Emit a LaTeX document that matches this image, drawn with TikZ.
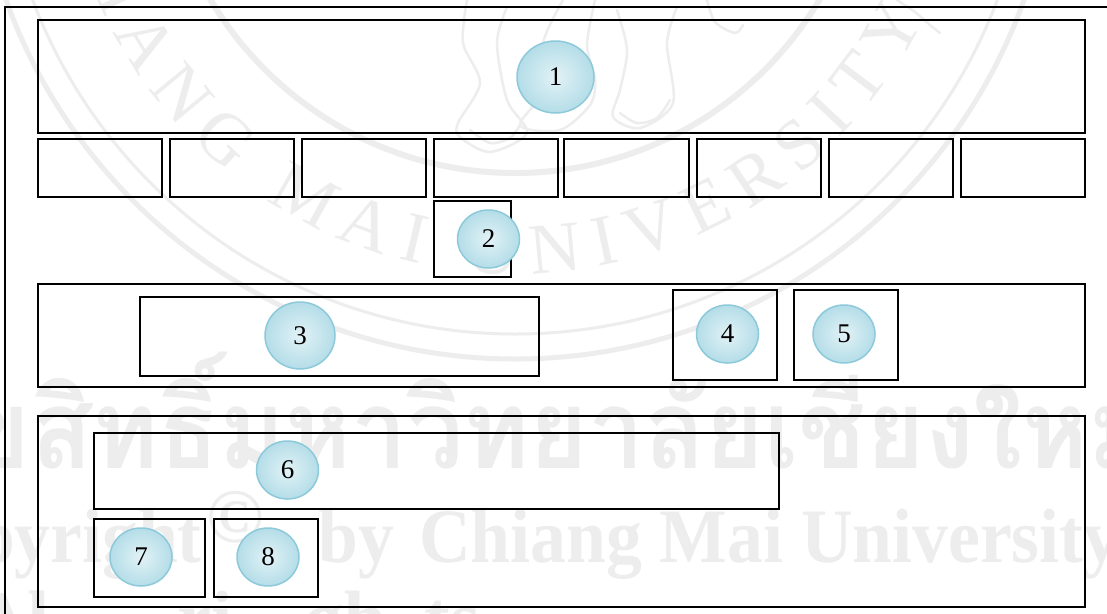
\documentclass[tikz,border=0pt]{standalone}
\usepackage{fontspec}
\setmainfont{Liberation Serif}
\newfontfamily\thaifont[Script=Thai]{Loma}
\usetikzlibrary{decorations.text,calc,shapes.geometric}
\definecolor{wm}{HTML}{EDEDED}
\definecolor{ballrim}{HTML}{8CC9DA}
\definecolor{ballin}{HTML}{E2F2F6}
\definecolor{ballout}{HTML}{B4DDE8}
\tikzset{
  boxnode/.style={draw=black,line width=1.4pt,rectangle,inner sep=0pt,outer sep=0pt},
  ballnode/.style={ellipse,draw=ballrim,line width=1.5pt,inner sep=0pt,outer sep=0pt,
    inner color=ballin,outer color=ballout,text=black,font=\fontsize{27}{27}\selectfont},
  wmline/.style={draw=wm,line width=2.5pt,line join=round,line cap=round},
  wmbig/.style={text=wm,inner sep=0pt,font=\bfseries\fontsize{77}{77}\selectfont},
}
\newcommand{\bx}[5]{\node[boxnode,minimum width=#4pt-#2pt,minimum height=#5pt-#3pt] (#1) at ({(#2+#4)/2},{(#3+#5)/2}) {};}
\begin{document}
\begin{tikzpicture}[x=1pt,y=-1pt]
\useasboundingbox (0,0) rectangle (1107,613);
\fill[white] (0,0) rectangle (1107,613);
\begin{scope}
\clip (0,0) rectangle (1107,613);
% watermark seal
\coordinate (sealc) at (515,-181);
\draw[wm,line width=5pt] (sealc) circle[radius=540];
\draw[wm,line width=3pt] (sealc) circle[radius=515];
\draw[wm,line width=6pt] (sealc) circle[radius=354];
\path[decorate,decoration={text along path,text align={fit to path},
  text={|\fontsize{72}{72}\selectfont\color{wm}|CHIANG MAI UNIVERSITY}}]
  (sealc) ++(173:455) arc[start angle=173,end angle=26,radius=455];
% elephant legs
\draw[wmline] plot[smooth] coordinates {(467,0)(463,43)(480,83)(458,123)(460,137)(490,152)(527,133)(507,100)(497,43)(507,7)};
\draw[wmline] plot[smooth] coordinates {(563,0)(543,43)(547,87)(520,125)(560,130)(590,105)(595,80)(587,45)(595,0)};
\draw[wmline] plot[smooth] coordinates {(617,10)(627,50)(620,90)(613,117)(640,128)(673,103)(667,43)(677,7)};
\draw[wmline] plot[smooth] coordinates {(620,113)(637,123)(657,118)(670,100)};
\draw[wmline] plot[smooth] coordinates {(470,130)(490,143)(510,138)(520,125)};
\draw[wmline] plot[smooth] coordinates {(707,0)(715,22)(735,33)(743,25)};
\draw[wmline] plot[smooth] coordinates {(897,0)(915,12)(930,25)(940,33)};
% watermark text
\node[anchor=base east,text=wm,inner sep=0pt,font=\thaifont\bfseries\fontsize{110}{110}\selectfont,xscale=.91] (wmthai) at (1155,468) {ลิขสิทธิ์มหาวิทยาลัยเชียงใหม่};
\node[anchor=base east,wmbig,xscale=.93] (wmcopy) at (202,562) {Copyright};
\node[anchor=base,wmbig] (wmc) at (235,542) {©};
\node[anchor=base west,wmbig,xscale=.93] (wmby) at (318,562) {by};
\node[anchor=base west,wmbig,xscale=.93] (wmuni) at (419,562) {Chiang Mai University};
\node[anchor=base west,wmbig] (wmall) at (-28,644) {Al\kern-21pt l\kern128pt ri\kern72pt gh\kern38pt ts\kern700pt reserved};
% outer frame
\draw[black,line width=1.4pt] (5,640) -- (5,7) -- (1120,7);
\end{scope}
\bx{top}{38}{20}{1085}{133}
\bx{c1}{38}{139}{162}{197}
\bx{c2}{170}{139}{294}{197}
\bx{c3}{302}{139}{426}{197}
\bx{c4}{434}{139}{558}{197}
\bx{c5}{564}{139}{689}{197}
\bx{c6}{697}{139}{821}{197}
\bx{c7}{829}{139}{953}{197}
\bx{c8}{961}{139}{1085}{197}
\bx{two}{434}{201}{511}{277}
\bx{band}{38}{284}{1085}{387}
\bx{three}{140}{297}{539}{376}
\bx{four}{673}{290}{777}{380}
\bx{five}{794}{290}{898}{380}
\bx{lower}{38}{416}{1085}{607}
\bx{six}{94}{433}{779}{509}
\bx{seven}{94}{519}{205}{597}
\bx{eight}{214}{519}{318}{597}
\node[ballnode,minimum width=77pt,minimum height=72pt] (b1) at (555.5,77) {1};
\node[ballnode,minimum width=62pt,minimum height=58pt] (b2) at (488.5,239) {\raisebox{-2pt}{2}};
\node[ballnode,minimum width=70pt,minimum height=67pt] (b3) at (300,335.5) {\raisebox{-2pt}{3}};
\node[ballnode,minimum width=62pt,minimum height=58pt] (b4) at (727.5,334) {\raisebox{-2pt}{4}};
\node[ballnode,minimum width=62pt,minimum height=58pt] (b5) at (844,334) {\raisebox{-2pt}{5}};
\node[ballnode,minimum width=62pt,minimum height=58pt] (b6) at (287.5,470) {\raisebox{-2pt}{6}};
\node[ballnode,minimum width=62pt,minimum height=58pt] (b7) at (141,557) {\raisebox{-2pt}{7}};
\node[ballnode,minimum width=62pt,minimum height=58pt] (b8) at (268,557) {\raisebox{-2pt}{8}};
\end{tikzpicture}
\end{document}
